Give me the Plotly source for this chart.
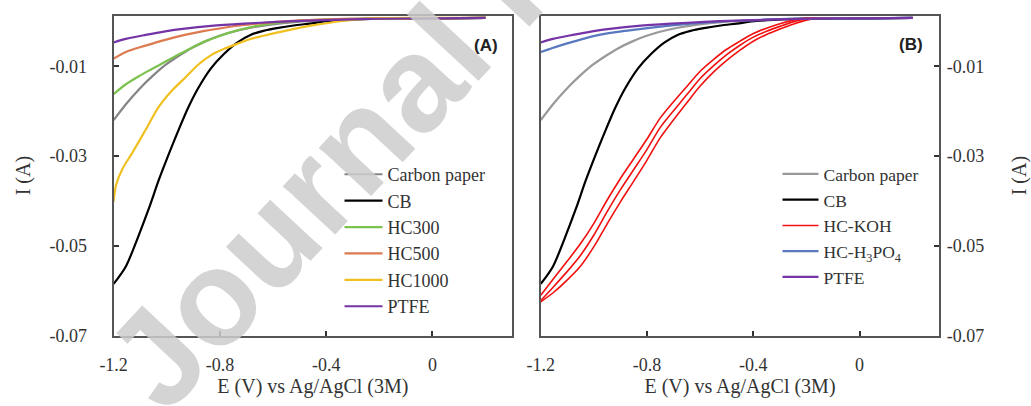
import plotly.graph_objects as go

# ---------------- data ----------------
carbon_x = [-1.2, -1.153, -1.104, -1.054, -1.005, -0.956, -0.906, -0.857, -0.807, -0.758, -0.684, -0.610, -0.511, -0.388, -0.264, -0.1, 0.05, 0.2]
carbon_y = [-0.0220, -0.0184, -0.0151, -0.0122, -0.0097, -0.0077, -0.0059, -0.0045, -0.0033, -0.0024, -0.0014, -0.0007, -0.0001, 0.0003, 0.0006, 0.0007, 0.0007, 0.0008]

cb_x = [-1.2, -1.154, -1.111, -1.068, -1.031, -0.994, -0.957, -0.920, -0.883, -0.833, -0.784, -0.735, -0.685, -0.636, -0.586, -0.51, -0.463, -0.388, -0.264, -0.1, 0.05, 0.2]
cb_y = [-0.0585, -0.0546, -0.0485, -0.0418, -0.0355, -0.0298, -0.0244, -0.0193, -0.0150, -0.0104, -0.0072, -0.0047, -0.0030, -0.0021, -0.0015, -0.0008, -0.0005, 0.0001, 0.0005, 0.0007, 0.0007, 0.0008]

hc300_x = [-1.2, -1.154, -1.105, -1.056, -1.006, -0.957, -0.907, -0.858, -0.809, -0.735, -0.661, -0.586, -0.463, -0.3, 0.0, 0.2]
hc300_y = [-0.0162, -0.0140, -0.0122, -0.0106, -0.0090, -0.0074, -0.0059, -0.0045, -0.0034, -0.0020, -0.0010, -0.0003, 0.0003, 0.0006, 0.0007, 0.0008]

hc500_x = [-1.2, -1.154, -1.080, -1.006, -0.932, -0.858, -0.784, -0.710, -0.586, -0.463, -0.340, -0.2, 0.0, 0.2]
hc500_y = [-0.0083, -0.0068, -0.0054, -0.0041, -0.0030, -0.0021, -0.0014, -0.0008, -0.0001, 0.0003, 0.0006, 0.0007, 0.0007, 0.0008]

hc1000_x = [-1.2, -1.191, -1.167, -1.130, -1.080, -1.031, -0.982, -0.932, -0.883, -0.833, -0.784, -0.735, -0.685, -0.636, -0.586, -0.525, -0.463, -0.340, -0.216, 0.0, 0.2]
hc1000_y = [-0.0401, -0.0365, -0.0329, -0.0293, -0.0242, -0.0191, -0.0155, -0.0126, -0.0097, -0.0075, -0.0061, -0.0050, -0.0039, -0.0032, -0.0025, -0.0017, -0.0010, 0.0001, 0.0007, 0.0008, 0.0008]

ptfe_x = [-1.2, -1.154, -1.080, -1.006, -0.932, -0.833, -0.710, -0.586, -0.463, -0.340, -0.2, 0.0, 0.2]
ptfe_y = [-0.0047, -0.0039, -0.0030, -0.0022, -0.0016, -0.0010, -0.0005, -0.0001, 0.0002, 0.0004, 0.0006, 0.0007, 0.0008]

h3po4_x = [-1.2, -1.128, -1.054, -0.980, -0.881, -0.758, -0.635, -0.511, -0.388, -0.264, -0.1, 0.05, 0.2]
h3po4_y = [-0.0068, -0.0054, -0.0041, -0.0030, -0.0021, -0.0012, -0.0005, 0.0000, 0.0003, 0.0006, 0.0007, 0.0007, 0.0008]

koh_x = [-1.2, -1.15, -1.1, -1.05, -1.0, -0.95, -0.9, -0.85, -0.8, -0.75, -0.7, -0.65, -0.6, -0.55, -0.5, -0.45, -0.4, -0.35, -0.3, -0.25, -0.2, -0.15, -0.1, 0.0, 0.1, 0.2]
koh_scan1_y = [-0.0622, -0.0590, -0.0557, -0.0521, -0.0476, -0.0424, -0.0375, -0.0330, -0.0285, -0.0236, -0.0199, -0.0163, -0.0127, -0.0099, -0.0074, -0.0053, -0.0035, -0.0022, -0.0011, -0.0001, 0.0006, 0.0008, 0.0008, 0.0008, 0.0008, 0.0008]
koh_scan2_y = [-0.0610, -0.0572, -0.0534, -0.0495, -0.0450, -0.0398, -0.0350, -0.0306, -0.0262, -0.0215, -0.0179, -0.0145, -0.0111, -0.0085, -0.0062, -0.0044, -0.0027, -0.0015, -0.0005, 0.0003, 0.0008, 0.0008, 0.0008, 0.0008, 0.0008, 0.0008]
koh_scan3_y = [-0.0625, -0.0603, -0.0576, -0.0545, -0.0502, -0.0451, -0.0402, -0.0356, -0.0309, -0.0259, -0.0219, -0.0181, -0.0144, -0.0113, -0.0087, -0.0064, -0.0044, -0.0029, -0.0017, -0.0006, 0.0003, 0.0007, 0.0008, 0.0008, 0.0008, 0.0008]

x_tickvals = [-1.2, -0.8, -0.4, 0]
x_ticktext = ["-1.2", "-0.8", "-0.4", "0"]
y_tickvals = [-0.07, -0.05, -0.03, -0.01]
y_ticktext = ["-0.07", "-0.05", "-0.03", "-0.01"]

x_title = "E (V) vs Ag/AgCl (3M)"
y_title = "I (A)"

# ---------------- styles ----------------
SERIF = "Liberation Serif, Times New Roman, serif"
C_CARBON = "#858585"
C_CB = "#000000"
C_HC300 = "#7cc24e"
C_HC500 = "#dc7a50"
C_HC1000 = "#f0c020"
C_PTFE = "#7434a6"
C_KOH = "#f01010"
C_H3PO4 = "#5a78c0"

fig = go.Figure()

def add(x, y, name, color, xa, ya, legend, width=2.2, showlegend=True):
    fig.add_trace(go.Scatter(
        x=x, y=y, name=name, mode="lines",
        line=dict(color=color, width=width, shape="spline", smoothing=0.8),
        xaxis=xa, yaxis=ya, legend=legend, showlegend=showlegend))

# Panel A
add(carbon_x, carbon_y, "Carbon paper", C_CARBON, "x", "y", "legend")
add(cb_x, cb_y, "CB", C_CB, "x", "y", "legend")
add(hc300_x, hc300_y, "HC300", C_HC300, "x", "y", "legend")
add(hc500_x, hc500_y, "HC500", C_HC500, "x", "y", "legend")
add(hc1000_x, hc1000_y, "HC1000", C_HC1000, "x", "y", "legend")
add(ptfe_x, ptfe_y, "PTFE", C_PTFE, "x", "y", "legend")

# Panel B
add(carbon_x, carbon_y, "Carbon paper", "#999999", "x2", "y2", "legend2")
add(cb_x, cb_y, "CB", C_CB, "x2", "y2", "legend2")
add(koh_x, koh_scan1_y, "HC-KOH", C_KOH, "x2", "y2", "legend2", width=1.6)
add(koh_x, koh_scan2_y, "HC-KOH", C_KOH, "x2", "y2", "legend2", width=1.6, showlegend=False)
add(koh_x, koh_scan3_y, "HC-KOH", C_KOH, "x2", "y2", "legend2", width=1.6, showlegend=False)
add(h3po4_x, h3po4_y, "HC-H<sub>3</sub>PO<sub>4</sub>", C_H3PO4, "x2", "y2", "legend2")
add(ptfe_x, ptfe_y, "PTFE", C_PTFE, "x2", "y2", "legend2")

W, H = 1031, 406
def px_x(p): return p / W
def px_y(p): return 1 - p / H

axis_common = dict(
    showline=True, mirror=True, linecolor="#555555", linewidth=2,
    ticks="inside", ticklen=5, tickwidth=1.5, tickcolor="#333333",
    showgrid=False, zeroline=False,
    tickfont=dict(family=SERIF, size=18, color="#333333"),
    title_font=dict(family=SERIF, size=20, color="#333333"),
)

xr = [-1.2, 0.3]
yr = [-0.07, 0.0013]

fig.update_layout(
    width=W, height=H,
    margin=dict(l=0, r=0, t=0, b=0),
    paper_bgcolor="white", plot_bgcolor="white",
    xaxis=dict(domain=[px_x(101), px_x(505)], range=xr, anchor="y",
               tickvals=x_tickvals, ticktext=x_ticktext, ticklabelstandoff=12,
               title=dict(text=x_title, standoff=0), **axis_common),
    yaxis=dict(domain=[px_y(344), px_y(16)], range=yr, anchor="x",
               tickvals=y_tickvals, ticktext=y_ticktext, ticklabelstandoff=21,
               title=dict(text=y_title, standoff=14), **axis_common),
    xaxis2=dict(domain=[px_x(534), px_x(938)], range=xr, anchor="y2",
                tickvals=x_tickvals, ticktext=x_ticktext, ticklabelstandoff=12,
                title=dict(text=x_title, standoff=0), **axis_common),
    yaxis2=dict(domain=[px_y(344), px_y(16)], range=yr, anchor="x2", side="right",
                tickvals=y_tickvals, ticktext=y_ticktext, ticklabelstandoff=2,
                title=dict(text=y_title, standoff=29), **axis_common),
    legend=dict(x=px_x(330), y=px_y(160), xanchor="left", yanchor="top",
                bgcolor="rgba(0,0,0,0)", itemwidth=38,
                font=dict(family=SERIF, size=18, color="#333333")),
    legend2=dict(x=px_x(774), y=px_y(160), xanchor="left", yanchor="top",
                 bgcolor="rgba(0,0,0,0)", itemwidth=36,
                 font=dict(family=SERIF, size=17.5, color="#333333")),
    showlegend=True,
)

fig.add_annotation(text="<b>(A)</b>", x=px_x(478), y=px_y(47), xref="paper", yref="paper",
                   xanchor="center", yanchor="middle",
                   showarrow=False, font=dict(family="Liberation Sans", size=17, color="#222222"))
fig.add_annotation(text="<b>(B)</b>", x=px_x(909), y=px_y(46), xref="paper", yref="paper",
                   xanchor="center", yanchor="middle",
                   showarrow=False, font=dict(family="Liberation Sans", size=17, color="#222222"))

# watermark
fig.add_annotation(text="<b>Journal Pre-proof</b>", x=px_x(511), y=px_y(-30), xref="paper", yref="paper",
                   showarrow=False, textangle=-47, xanchor="center", yanchor="middle",
                   font=dict(family="Liberation Sans", size=135, color="rgba(205,205,205,0.85)"))

fig.write_html("out.html")
